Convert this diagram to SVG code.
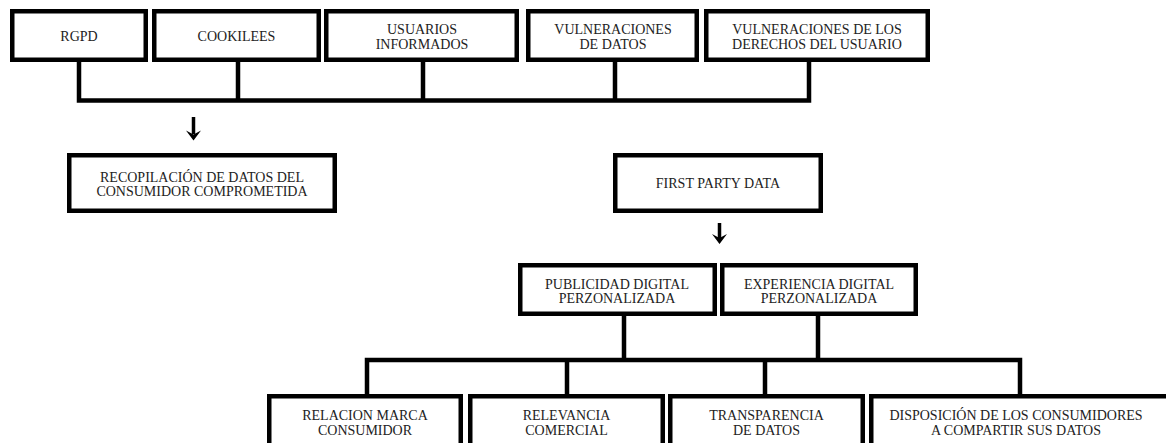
<svg xmlns="http://www.w3.org/2000/svg" width="1166" height="443" viewBox="0 0 1166 443">
<style>
.box{fill:#fff;stroke:#000;stroke-width:4.5}
.t{font-family:"Liberation Serif","DejaVu Serif",serif;font-size:14px;fill:#222;text-anchor:middle}
.c{fill:none;stroke:#000;stroke-width:4.5;stroke-linejoin:miter;stroke-linecap:square}
.a{fill:none;stroke:#000;stroke-width:3.5}
</style>
<defs>
<marker id="ah" viewBox="0 0 10 10" refX="5" refY="9" markerWidth="4.4" markerHeight="3.2" orient="auto-start-reverse" markerUnits="strokeWidth">
<path d="M0,0 L5,9 L10,0 L5,4 Z" fill="#000" transform="rotate(0)"/>
</marker>
</defs>
<g id="connectors">
<path class="c" d="M79,62 V100.5 M238,62 V100.5 M423,62 V100.5 M615,62 V100.5 M809,62 V100.5 M79,100.5 H809"/>
<path class="c" d="M624,316 V360 M818,316 V360 M367,360 H1020 M367,360 V394 M567,360 V394 M765,360 V394 M1020,360 V394"/>
<path d="M193.5,117 V134" stroke="#000" stroke-width="3.5"/>
<path d="M186,130.5 L193.5,140.5 L201,130.5 L193.5,134.5 Z" fill="#000"/>
<path d="M719.5,223 V238" stroke="#000" stroke-width="3.5"/>
<path d="M712,234 L719.5,244 L727,234 L719.5,238 Z" fill="#000"/>
</g>
<g id="rgpd"><rect class="box" x="12.25" y="11.25" width="133.5" height="48.5"/><text class="t" x="79" y="40.5">RGPD</text></g>
<g id="cookilees"><rect class="box" x="154.25" y="11.25" width="164.5" height="48.5"/><text class="t" x="236.5" y="40.5">COOKILEES</text></g>
<g id="usuarios"><rect class="box" x="326.25" y="11.25" width="190.5" height="48.5"/><text class="t" x="422" y="34">USUARIOS</text><text class="t" x="422" y="49">INFORMADOS</text></g>
<g id="vuln-datos"><rect class="box" x="528.25" y="11.25" width="168.5" height="48.5"/><text class="t" x="613" y="34">VULNERACIONES</text><text class="t" x="613" y="49">DE DATOS</text></g>
<g id="vuln-derechos"><rect class="box" x="706.25" y="11.25" width="221.5" height="48.5"/><text class="t" x="817" y="34">VULNERACIONES DE LOS</text><text class="t" x="817" y="49">DERECHOS DEL USUARIO</text></g>
<g id="recopilacion"><rect class="box" x="69.25" y="155.25" width="265.5" height="55.5"/><text class="t" x="202" y="181.5">RECOPILACIÓN DE DATOS DEL</text><text class="t" x="202" y="196">CONSUMIDOR COMPROMETIDA</text></g>
<g id="first-party"><rect class="box" x="615.25" y="155.25" width="205.5" height="55.5"/><text class="t" x="718" y="187.5">FIRST PARTY DATA</text></g>
<g id="publicidad"><rect class="box" x="520.25" y="265.25" width="194.5" height="48.5"/><text class="t" x="617" y="288.5">PUBLICIDAD DIGITAL</text><text class="t" x="617" y="303">PERZONALIZADA</text></g>
<g id="experiencia"><rect class="box" x="722.25" y="265.25" width="193.5" height="48.5"/><text class="t" x="819" y="288.5">EXPERIENCIA DIGITAL</text><text class="t" x="819" y="303">PERZONALIZADA</text></g>
<g id="relacion"><rect class="box" x="269.25" y="396.25" width="191.5" height="60"/><text class="t" x="365" y="420">RELACION MARCA</text><text class="t" x="365" y="435">CONSUMIDOR</text></g>
<g id="relevancia"><rect class="box" x="470.25" y="396.25" width="192.5" height="60"/><text class="t" x="566.5" y="420">RELEVANCIA</text><text class="t" x="566.5" y="435">COMERCIAL</text></g>
<g id="transparencia"><rect class="box" x="670.25" y="396.25" width="192.5" height="60"/><text class="t" x="766.5" y="420">TRANSPARENCIA</text><text class="t" x="766.5" y="435">DE DATOS</text></g>
<g id="disposicion"><rect class="box" x="871.25" y="396.25" width="310" height="60"/><text class="t" x="1016" y="420">DISPOSICIÓN DE LOS CONSUMIDORES</text><text class="t" x="1016" y="435">A COMPARTIR SUS DATOS</text></g>
</svg>
